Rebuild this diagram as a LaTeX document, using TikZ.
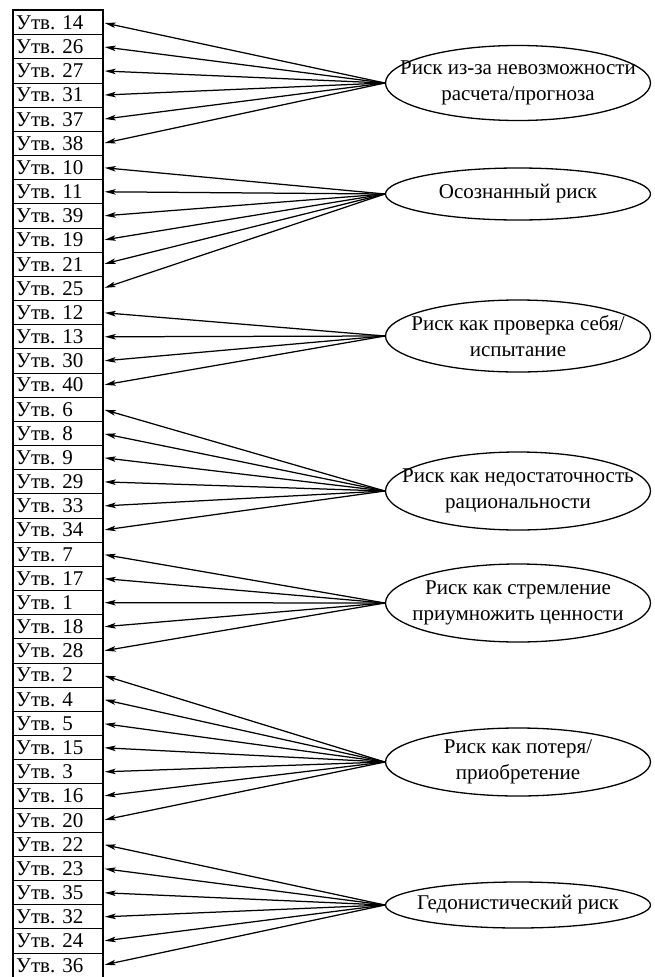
\documentclass[tikz,border=0pt]{standalone}
\usepackage{fontspec}
\setmainfont{Liberation Serif}
\usetikzlibrary{arrows.meta,shapes.geometric}
\begin{document}
\begin{tikzpicture}[x=1pt,y=-1pt,
  stbox/.style={draw,line width=1pt,rectangle,anchor=north west,
    minimum width=89pt,minimum height=24.17pt,text width=83pt,
    inner xsep=3pt,inner ysep=0pt,align=left,
    font=\fontsize{21}{24}\selectfont},
  cat/.style={draw,ellipse,line width=1.3pt,minimum width=265pt,inner sep=0pt},
  cattext/.style={align=center,inner sep=0pt,font=\fontsize{21}{26}\selectfont},
  arr/.style={-{Stealth[length=11pt,width=5.5pt,inset=2.5pt]},line width=1.25pt,shorten >=2pt}]
\useasboundingbox (0,0) rectangle (654,977);
\foreach \t [count=\i from 0] in {14,26,27,31,37,38,10,11,39,19,21,25,12,13,30,40,6,8,9,29,33,34,7,17,1,18,28,2,4,5,15,3,16,20,22,23,35,32,24,36}
  {\node[stbox] (b\i) at (12.7,{10+\i*24.17}) {Утв.\ \t};}
\draw[line width=1.6pt] (b0.north west) rectangle (b39.south east);

\node[cat,minimum height=75pt] (e1) at (518,83) {};
\node[cattext] (t1) at (e1) {Риск из-за невозможности\\расчета/прогноза};
\node[cat,minimum height=52pt] (e2) at (518,194) {};
\node[cattext] (t2) at (e2) {Осознанный риск};
\node[cat,minimum height=72pt] (e3) at (518,336) {};
\node[cattext] (t3) at (e3) {Риск как проверка себя/\\испытание};
\node[cat,minimum height=78pt] (e4) at (518,491) {};
\node[cattext] (t4) at (e4) {Риск как недостаточность\\рациональности};
\node[cat,minimum height=78pt] (e5) at (518,603) {};
\node[cattext] (t5) at (e5) {Риск как стремление\\приумножить ценности};
\node[cat,minimum height=68pt] (e6) at (518,762) {};
\node[cattext] (t6) at (e6) {Риск как потеря/\\приобретение};
\node[cat,minimum height=46pt] (e7) at (518,905) {};
\node[cattext] (t7) at (e7) {Гедонистический риск};

\foreach \i in {0,...,5} \draw[arr] (e1.west) -- (b\i.east);
\foreach \i in {6,...,11} \draw[arr] (e2.west) -- (b\i.east);
\foreach \i in {12,...,15} \draw[arr] (e3.west) -- (b\i.east);
\foreach \i in {16,...,21} \draw[arr] (e4.west) -- (b\i.east);
\foreach \i in {22,...,26} \draw[arr] (e5.west) -- (b\i.east);
\foreach \i in {27,...,33} \draw[arr] (e6.west) -- (b\i.east);
\foreach \i in {34,...,39} \draw[arr] (e7.west) -- (b\i.east);
\end{tikzpicture}
\end{document}
